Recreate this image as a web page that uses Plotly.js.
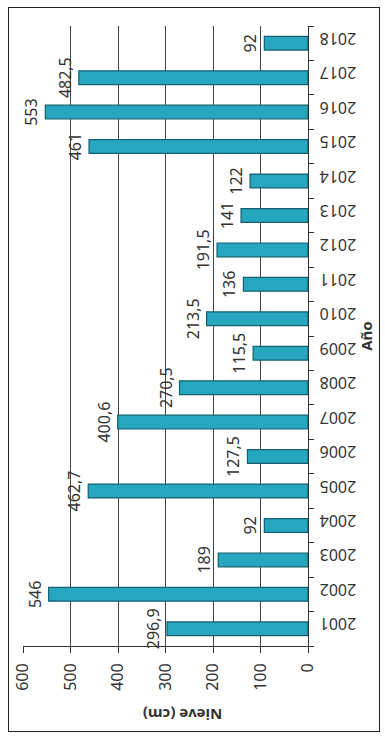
<!DOCTYPE html>
<html>
<head>
<meta charset="utf-8">
<script src="https://cdn.plot.ly/plotly-3.0.1.min.js"></script>
<style>
  html, body { margin: 0; padding: 0; background: #fff; }
  #chart { width: 385px; height: 738px; }
  #frame { position: absolute; left: 8px; top: 7px; width: 372px; height: 725px; border: 1.5px solid #222; box-sizing: border-box; pointer-events: none; }
</style>
</head>
<body>
<div id="chart"></div>
<div id="frame"></div>
<script>
const years = ['2001','2002','2003','2004','2005','2006','2007','2008','2009','2010','2011','2012','2013','2014','2015','2016','2017','2018'];
const snow = [296.9, 546, 189, 92, 462.7, 127.5, 400.6, 270.5, 115.5, 213.5, 136, 191.5, 141, 122, 461, 553, 482.5, 92];
const snowLabels = ['296,9','546','189','92','462,7','127,5','400,6','270,5','115,5','213,5','136','191,5','141','122','461','553','482,5','92'];
const valueTicks = [0, 100, 200, 300, 400, 500, 600];

const font = "'Noto Sans', 'Open Sans', sans-serif";

const trace = {
  type: 'bar',
  orientation: 'h',
  y: years,
  x: snow,
  text: snowLabels,
  textposition: 'outside',
  textangle: -90,
  constraintext: 'none',
  cliponaxis: false,
  textfont: { family: font, size: 16, color: '#333' },
  width: 0.4,
  marker: { color: '#27A6BF', line: { color: '#14606F', width: 1.2 } },
  hoverinfo: 'none'
};

const layout = {
  width: 385,
  height: 738,
  margin: { l: 23, r: 77, t: 26, b: 92 },
  paper_bgcolor: '#fff',
  plot_bgcolor: '#fff',
  showlegend: false,
  font: { family: font, size: 16, color: '#333' },
  xaxis: {
    range: [600, 0],
    tickvals: valueTicks,
    ticktext: valueTicks.map(String),
    tickangle: -90,
    ticks: 'outside',
    ticklen: 6,
    tickcolor: '#333',
    ticklabelstandoff: 4,
    showgrid: true,
    gridcolor: '#444',
    gridwidth: 1,
    zeroline: false,
    showline: true,
    linecolor: '#333',
    linewidth: 1,
    tickfont: { family: font, size: 16, color: '#333' },
    fixedrange: true
  },
  yaxis: {
    type: 'category',
    categoryorder: 'array',
    categoryarray: years,
    side: 'right',
    tickangle: 180,
    ticks: 'outside',
    tickson: 'boundaries',
    ticklen: 5,
    tickcolor: '#333',
    ticklabelstandoff: 44,
    showline: true,
    linecolor: '#333',
    linewidth: 1,
    showgrid: false,
    tickfont: { family: font, size: 16, color: '#333' },
    title: { text: '<b>Año</b>', font: { family: font, size: 15, color: '#333' }, standoff: 2 },
    fixedrange: true
  },
  annotations: [{
    text: '<b>Nieve (cm)</b>',
    textangle: 180,
    xref: 'paper', yref: 'paper',
    x: 0.56, y: -0.092,
    yanchor: 'top',
    showarrow: false,
    font: { family: font, size: 15, color: '#333' }
  }]
};

Plotly.newPlot('chart', [trace], layout, { displayModeBar: false, staticPlot: true });
</script>
</body>
</html>
